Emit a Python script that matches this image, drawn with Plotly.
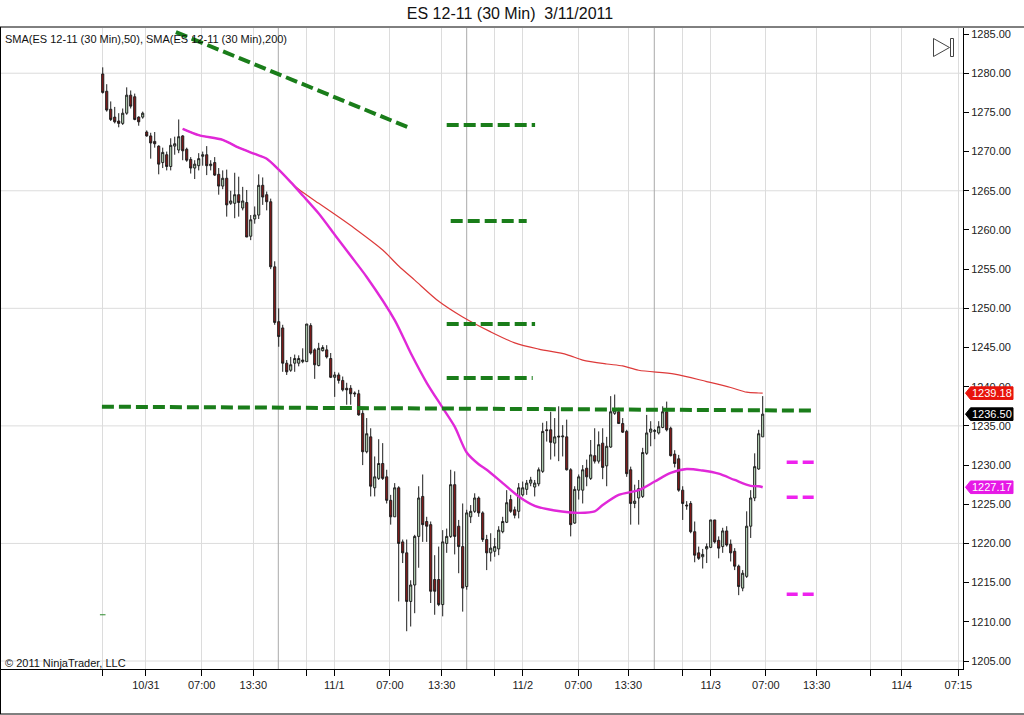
import plotly.graph_objects as go

# ---------------- data ----------------
OPEN = [1279.9, 1277.7, 1275.4, 1274.4, 1273.9, 1273.6, 1274.9, 1277.2, 1277.0, 1274.4,
        1274.4, 1272.5, 1272.0, 1271.3, 1270.7, 1268.6, 1269.6, 1268.1, 1270.7, 1270.2,
        1272.0, 1270.3, 1269.0, 1267.9, 1268.2, 1269.4, 1269.6, 1268.2, 1268.6, 1267.1,
        1265.6, 1266.6, 1263.4, 1263.4, 1264.5, 1262.8, 1263.5, 1259.2, 1261.4, 1261.9,
        1265.7, 1264.5, 1263.6, 1255.3, 1248.3, 1247.5, 1243.0, 1242.1, 1243.0, 1243.0,
        1243.2, 1243.2, 1247.8, 1244.7, 1242.7, 1244.6, 1244.7, 1243.6, 1241.2, 1241.5,
        1240.8, 1239.8, 1239.8, 1239.2, 1239.1, 1236.6, 1231.7, 1233.6, 1227.1, 1228.3,
        1230.2, 1228.5, 1225.5, 1223.4, 1227.1, 1220.2, 1218.8, 1212.6, 1214.7, 1220.9,
        1226.0, 1222.8, 1222.4, 1215.4, 1215.4, 1212.2, 1220.0, 1220.9, 1227.5, 1222.2,
        1219.6, 1214.5, 1223.4, 1224.1, 1225.8, 1223.9, 1220.5, 1218.8, 1219.0, 1219.3,
        1221.5, 1222.7, 1225.6, 1224.3, 1224.1, 1226.2, 1226.9, 1227.7, 1227.2, 1227.6,
        1229.2, 1234.5, 1234.5, 1232.8, 1233.7, 1233.6, 1233.6, 1229.4, 1222.6, 1226.8,
        1226.8, 1229.6, 1228.3, 1231.2, 1230.5, 1232.8, 1229.9, 1232.3, 1236.6, 1236.8,
        1235.3, 1234.3, 1229.4, 1225.1, 1225.8, 1226.0, 1231.5, 1234.2, 1234.3, 1234.1,
        1234.8, 1236.8, 1234.7, 1231.4, 1230.8, 1226.8, 1224.9, 1225.1, 1221.5, 1218.8,
        1218.3, 1219.3, 1219.5, 1223.0, 1220.4, 1219.6, 1221.6, 1219.9, 1219.0, 1217.1,
        1214.3, 1215.8, 1222.2, 1225.8, 1229.5, 1233.6]
HIGH = [1280.75, 1278.6, 1276.4, 1275.7, 1274.9, 1275.5, 1278.2, 1277.8, 1277.4, 1274.5,
        1275.1, 1272.7, 1272.4, 1272.5, 1270.8, 1270.5, 1270.0, 1271.7, 1271.9, 1274.1,
        1272.1, 1270.5, 1269.3, 1268.9, 1269.8, 1270.0, 1270.7, 1268.9, 1269.3, 1267.9,
        1267.6, 1267.7, 1265.0, 1267.3, 1266.8, 1265.5, 1265.1, 1261.9, 1263.0, 1267.1,
        1266.7, 1264.9, 1264.0, 1256.0, 1250.0, 1247.9, 1243.4, 1243.8, 1244.1, 1244.0,
        1244.9, 1248.0, 1248.1, 1244.9, 1245.6, 1245.3, 1245.3, 1244.3, 1241.9, 1241.8,
        1241.3, 1240.5, 1240.2, 1239.4, 1239.6, 1237.0, 1236.0, 1234.7, 1231.1, 1233.3,
        1232.8, 1229.4, 1226.2, 1227.7, 1227.3, 1220.5, 1220.5, 1215.3, 1221.1, 1227.3,
        1228.8, 1223.4, 1222.8, 1218.5, 1219.6, 1221.7, 1221.9, 1229.4, 1229.2, 1223.0,
        1225.1, 1224.3, 1224.9, 1226.4, 1226.0, 1224.1, 1221.1, 1221.3, 1220.7, 1222.2,
        1223.4, 1226.8, 1226.2, 1224.7, 1227.7, 1227.9, 1228.1, 1228.5, 1228.1, 1229.7,
        1235.4, 1235.6, 1236.8, 1236.0, 1237.5, 1235.1, 1235.8, 1229.6, 1227.3, 1228.8,
        1230.0, 1230.7, 1233.2, 1234.7, 1234.3, 1234.7, 1233.6, 1238.8, 1239.0, 1237.3,
        1236.0, 1234.5, 1229.8, 1227.5, 1228.1, 1232.2, 1236.4, 1235.6, 1234.6, 1235.6,
        1237.5, 1238.1, 1234.9, 1231.9, 1231.3, 1227.3, 1225.4, 1225.4, 1222.8, 1219.6,
        1219.3, 1220.0, 1223.0, 1223.0, 1220.9, 1222.0, 1222.2, 1220.5, 1219.4, 1217.3,
        1216.6, 1224.1, 1226.8, 1231.5, 1234.5, 1238.8]
LOW = [1277.4, 1275.1, 1273.9, 1273.6, 1273.1, 1273.4, 1274.7, 1275.5, 1274.0, 1273.3,
       1274.2, 1271.9, 1269.1, 1270.5, 1267.1, 1267.9, 1267.6, 1267.6, 1269.6, 1269.8,
       1268.9, 1268.7, 1267.2, 1266.5, 1267.6, 1268.2, 1267.0, 1267.6, 1266.9, 1264.5,
       1265.2, 1261.7, 1263.2, 1261.5, 1261.7, 1262.5, 1259.1, 1258.7, 1260.8, 1261.4,
       1263.2, 1262.5, 1255.0, 1247.9, 1245.1, 1241.9, 1241.5, 1241.9, 1241.9, 1242.6,
       1243.0, 1243.2, 1244.1, 1241.0, 1242.6, 1244.5, 1243.6, 1241.1, 1238.7, 1240.4,
       1239.4, 1237.7, 1237.7, 1238.7, 1236.3, 1230.0, 1231.5, 1226.0, 1226.0, 1228.1,
       1228.1, 1225.1, 1222.4, 1223.4, 1212.6, 1217.5, 1208.8, 1209.4, 1211.1, 1216.9,
       1220.2, 1220.2, 1212.4, 1210.9, 1212.0, 1210.7, 1218.8, 1220.7, 1218.6, 1216.2,
       1211.3, 1214.1, 1222.6, 1223.9, 1223.4, 1220.2, 1216.6, 1217.7, 1218.3, 1218.5,
       1221.3, 1222.6, 1223.9, 1223.2, 1223.2, 1226.0, 1226.2, 1227.3, 1226.0, 1227.3,
       1229.0, 1233.0, 1230.7, 1231.1, 1230.5, 1231.1, 1229.3, 1220.9, 1222.5, 1225.6,
       1225.1, 1227.3, 1228.1, 1230.2, 1230.2, 1228.2, 1227.3, 1232.2, 1236.4, 1235.3,
       1234.1, 1228.5, 1222.4, 1224.5, 1222.4, 1225.8, 1231.3, 1232.4, 1233.3, 1233.9,
       1234.7, 1234.3, 1231.1, 1229.7, 1226.6, 1223.0, 1224.3, 1221.3, 1217.6, 1217.9,
       1216.8, 1217.5, 1219.4, 1220.0, 1218.1, 1218.8, 1219.6, 1217.7, 1216.6, 1213.4,
       1213.9, 1215.6, 1220.7, 1225.4, 1229.4, 1233.6]
CLOSE = [1277.55, 1275.3, 1274.1, 1273.8, 1273.6, 1274.9, 1277.2, 1275.8, 1274.1, 1273.8,
         1274.9, 1272.0, 1271.1, 1271.0, 1268.4, 1269.9, 1268.1, 1270.8, 1271.0, 1271.9,
         1270.1, 1268.9, 1267.9, 1268.4, 1269.1, 1269.6, 1268.2, 1268.4, 1267.0, 1265.6,
         1266.6, 1263.2, 1263.7, 1264.5, 1263.5, 1263.7, 1259.1, 1261.3, 1261.9, 1265.7,
         1264.2, 1263.6, 1255.3, 1248.2, 1246.4, 1243.0, 1241.9, 1242.8, 1243.6, 1243.6,
         1243.4, 1248.0, 1244.3, 1242.8, 1244.9, 1245.0, 1243.8, 1241.2, 1241.5, 1240.8,
         1239.6, 1239.6, 1239.1, 1239.1, 1236.4, 1231.7, 1234.0, 1227.3, 1228.5, 1230.2,
         1228.3, 1225.5, 1223.4, 1227.1, 1220.0, 1218.8, 1212.6, 1214.7, 1220.9, 1225.8,
         1222.4, 1222.2, 1213.9, 1213.9, 1212.2, 1220.2, 1220.9, 1227.5, 1220.9, 1219.6,
         1214.3, 1223.9, 1224.1, 1225.8, 1223.9, 1220.5, 1218.8, 1219.4, 1219.6, 1221.7,
         1222.8, 1225.2, 1224.1, 1223.6, 1227.1, 1227.1, 1227.7, 1228.1, 1227.7, 1229.4,
         1234.3, 1234.4, 1232.9, 1233.6, 1233.6, 1233.7, 1229.4, 1222.4, 1226.9, 1228.5,
         1229.4, 1228.5, 1231.3, 1230.5, 1232.6, 1229.7, 1232.4, 1236.8, 1237.0, 1235.3,
         1234.2, 1228.9, 1225.1, 1225.4, 1227.0, 1231.6, 1234.1, 1234.6, 1234.4, 1234.9,
         1236.8, 1234.5, 1231.2, 1230.2, 1226.8, 1225.1, 1224.8, 1221.5, 1218.5, 1218.1,
         1218.6, 1219.6, 1223.0, 1220.2, 1219.4, 1221.6, 1219.8, 1218.8, 1217.1, 1214.5,
         1216.2, 1222.2, 1225.8, 1229.8, 1234.0, 1236.5]
BAR = list(range(len(OPEN)))

SMA50_BAR = [20, 24, 30, 34, 38, 41, 44, 47, 50, 54, 58, 62, 66, 73, 77, 81, 85, 88, 91, 94,
             96, 100, 104, 108, 113, 117, 119, 123, 125, 129, 134, 138, 142, 146, 150, 154,
             158, 162, 164, 165]
SMA50_VAL = [1272.9, 1272.1, 1271.5, 1270.5, 1269.7, 1269.1, 1267.7, 1266.1, 1264.4, 1262.1,
             1259.4, 1256.7, 1254.0, 1248.5, 1244.3, 1240.5, 1237.3, 1234.9, 1231.6, 1230.1,
             1229.4, 1227.7, 1226.0, 1224.8, 1224.2, 1223.95, 1223.9, 1224.1, 1224.9, 1226.2,
             1226.8, 1227.9, 1229.0, 1229.5, 1229.3, 1228.9, 1228.1, 1227.35, 1227.3, 1227.17]

SMA200_BAR = [20, 24, 30, 34, 38, 41, 44, 47, 49, 54, 58, 63, 70, 74, 78, 84, 90, 97, 103,
              109, 116, 120, 126, 130, 134, 143, 151, 157, 161, 164, 165]
SMA200_VAL = [1272.9, 1272.1, 1271.5, 1270.5, 1269.7, 1269.1, 1267.7, 1266.1, 1265.2, 1263.4,
              1262.0, 1260.2, 1257.45, 1255.4, 1253.6, 1250.9, 1248.9, 1247.0, 1245.6,
              1244.8, 1244.1, 1243.4, 1242.9, 1242.65, 1242.1, 1241.6, 1240.65, 1239.9,
              1239.3, 1239.2, 1239.18]

FIRST_MARK = (0, 1210.9)

TICK_POS = [0, 10.8, 24.75, 37.65, 51, 57.9, 71.8, 84.75, 98, 105, 118.9, 131.4, 145,
            152, 165.8, 178.5, 192, 199.75, 213.9]
TICK_TEXT = ['', '10/31', '07:00', '13:30', '', '11/1', '07:00', '13:30', '', '11/2',
             '07:00', '13:30', '', '11/3', '07:00', '13:30', '', '11/4', '07:15']
SESSION_BREAKS = [43.9, 91.0, 137.9]
GRID_PRICES = [1205, 1220, 1235, 1250, 1265, 1280]

# user drawn lines: (bar0, price0, bar1, price1)
GREEN_LINES = [(18.3, 1285.25, 76.8, 1273.0),
               (86.0, 1273.4, 108.1, 1273.4),
               (87.0, 1261.15, 106.0, 1261.15),
               (86.0, 1248.0, 108.1, 1248.0),
               (86.0, 1241.1, 107.5, 1241.1),
               (-0.2, 1237.45, 178.1, 1236.95)]
MAGENTA_LINES = [(171.0, 1230.36, 178.1, 1230.36),
                 (171.0, 1225.9, 178.1, 1225.9),
                 (171.0, 1213.53, 178.1, 1213.53)]

TITLE = "ES 12-11 (30 Min) \u00a03/11/2011"
LEGEND_TEXT = "SMA(ES 12-11 (30 Min),50), SMA(ES 12-11 (30 Min),200)"
COPYRIGHT = "\u00a9 2011 NinjaTrader, LLC"

# ---------------- layout geometry ----------------
W, H = 1024, 715
ML, MR, MT, MB = 1, 61, 28, 46
PW, PH = W - ML - MR, H - MT - MB
X_RANGE = [-25.43, 215.08]
Y_RANGE = [1203.98, 1285.77]
FONT = "Arial, Liberation Sans, sans-serif"

def pxx(px):
    return (px - ML) / PW

def pxy(py):
    return (H - MB - py) / PH

fig = go.Figure()

fig.add_trace(go.Candlestick(
    x=BAR, open=OPEN, high=HIGH, low=LOW, close=CLOSE,
    increasing=dict(line=dict(color='#1e1e1e', width=1), fillcolor='#c2e2c2'),
    decreasing=dict(line=dict(color='#1e1e1e', width=1), fillcolor='#8b1a1a'),
    whiskerwidth=0, showlegend=False, hoverinfo='skip'))

fig.add_trace(go.Scatter(x=SMA200_BAR, y=SMA200_VAL, mode='lines',
                         line=dict(color='#dd3a3a', width=1.2, shape='spline', smoothing=0.8),
                         showlegend=False, hoverinfo='skip'))
fig.add_trace(go.Scatter(x=SMA50_BAR, y=SMA50_VAL, mode='lines',
                         line=dict(color='#e028d8', width=2.4, shape='spline', smoothing=0.8),
                         showlegend=False, hoverinfo='skip'))
fig.add_trace(go.Scatter(x=[FIRST_MARK[0]], y=[FIRST_MARK[1]], mode='markers',
                         marker=dict(symbol='line-ew', size=4,
                                     line=dict(color='#2e8b2e', width=1)),
                         showlegend=False, hoverinfo='skip'))

shapes = []
for p in GRID_PRICES:
    shapes.append(dict(type='line', xref='paper', yref='y', x0=0, x1=1, y0=p, y1=p,
                       line=dict(color='#dcdcdc', width=1), layer='below'))
for b in SESSION_BREAKS:
    shapes.append(dict(type='line', xref='x', yref='paper', x0=b, x1=b, y0=0, y1=1,
                       line=dict(color='#a9a9a9', width=1), layer='below'))
for (b0, p0, b1, p1) in GREEN_LINES:
    shapes.append(dict(type='line', xref='x', yref='y', x0=b0, y0=p0, x1=b1, y1=p1,
                       line=dict(color='#1a7d1a', width=4, dash='12px,5px'), layer='above'))
for (b0, p0, b1, p1) in MAGENTA_LINES:
    shapes.append(dict(type='line', xref='x', yref='y', x0=b0, y0=p0, x1=b1, y1=p1,
                       line=dict(color='#ee22ee', width=3.5, dash='11px,5px'), layer='above'))

# frame
shapes.append(dict(type='line', xref='paper', yref='paper', x0=pxx(0), x1=pxx(1030),
                   y0=pxy(27), y1=pxy(27), line=dict(color='#000', width=1)))
shapes.append(dict(type='line', xref='paper', yref='paper', x0=pxx(0), x1=pxx(1030),
                   y0=pxy(714), y1=pxy(714), line=dict(color='#000', width=1)))
shapes.append(dict(type='line', xref='paper', yref='paper', x0=pxx(0.5), x1=pxx(0.5),
                   y0=pxy(27), y1=pxy(714), line=dict(color='#000', width=1)))
shapes.append(dict(type='line', xref='paper', yref='paper', x0=pxx(0), x1=pxx(1),
                   y0=0, y1=0, line=dict(color='#000', width=1)))

# play icon
shapes.append(dict(type='path', xref='paper', yref='paper',
                   path=f"M {pxx(933.5)},{pxy(38.5)} L {pxx(949.5)},{pxy(47.5)} "
                        f"L {pxx(933.5)},{pxy(56.5)} Z",
                   line=dict(color='#444', width=1)))
shapes.append(dict(type='rect', xref='paper', yref='paper',
                   x0=pxx(950.5), x1=pxx(953.5), y0=pxy(38.5), y1=pxy(56.5),
                   line=dict(color='#444', width=1)))

annotations = []
ppp = (Y_RANGE[1] - Y_RANGE[0]) / PH  # price per pixel
TAGS = [(SMA200_VAL[-1], '#e8140c'), (CLOSE[-1], '#000000'), (SMA50_VAL[-1], '#e619e6')]
for val, col in TAGS:
    h = 6.3 * ppp
    shapes.append(dict(type='path', xref='paper', yref='y',
                       path=(f"M {pxx(965.5)},{val} L {pxx(970.5)},{val + h} "
                             f"L {pxx(1013)},{val + h} L {pxx(1013)},{val - h} "
                             f"L {pxx(970.5)},{val - h} Z"),
                       fillcolor=col, line=dict(color=col, width=1), layer='above'))
    annotations.append(dict(xref='paper', yref='y', x=pxx(992), y=val,
                            text=f"{val:.2f}", showarrow=False, xanchor='center',
                            yanchor='middle',
                            font=dict(family=FONT, size=11, color='#ffffff')))

annotations.append(dict(xref='paper', yref='paper', x=pxx(3), y=pxy(39),
                        text=LEGEND_TEXT, showarrow=False, xanchor='left', yanchor='middle',
                        font=dict(family=FONT, size=11, color='#111')))
annotations.append(dict(xref='paper', yref='paper', x=pxx(3), y=pxy(663),
                        text=COPYRIGHT, showarrow=False, xanchor='left', yanchor='middle',
                        font=dict(family=FONT, size=11, color='#111')))

fig.update_layout(
    width=W, height=H,
    margin=dict(l=ML, r=MR, t=MT, b=MB, pad=0),
    paper_bgcolor='white', plot_bgcolor='white',
    boxgap=0.25,
    title=dict(text=TITLE, x=0.5, xref='paper', xanchor='center', y=1 - 13 / H,
               yref='container', yanchor='middle',
               font=dict(family=FONT, size=16, color='#111')),
    shapes=shapes, annotations=annotations,
    showlegend=False, hovermode=False,
    xaxis=dict(range=X_RANGE, tickmode='array', tickvals=TICK_POS, ticktext=TICK_TEXT,
               showgrid=True, gridcolor='#dcdcdc', gridwidth=1, zeroline=False,
               showline=True, linecolor='#000', linewidth=1,
               ticks='outside', ticklen=6, tickcolor='#000', tickwidth=1,
               tickfont=dict(family=FONT, size=11, color='#222'),
               rangeslider=dict(visible=False), fixedrange=True),
    yaxis=dict(range=Y_RANGE, side='right', tick0=1205, dtick=5, tickformat='.2f',
               showgrid=False, zeroline=False, showline=True, linecolor='#000',
               linewidth=1, ticks='outside', ticklen=5, tickcolor='#000',
               tickfont=dict(family=FONT, size=11, color='#222'), fixedrange=True),
)
fig.update_layout(title_x=(510 - ML) / PW)

fig.write_html("out.html", config={'displayModeBar': False},
               post_script="document.body.style.margin='0';document.body.style.overflow='hidden';")
